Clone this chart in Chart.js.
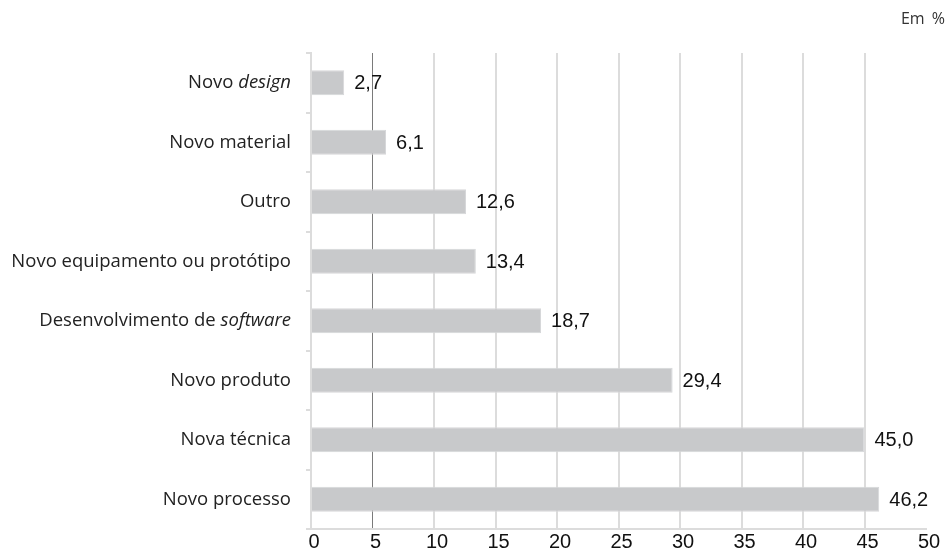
<!DOCTYPE html>
<html>
<head>
<meta charset="utf-8">
<script src="https://cdn.jsdelivr.net/npm/chart.js@4"></script>
<style>
  html, body { margin: 0; padding: 0; background: #fff; }
  #wrap { position: relative; width: 950px; height: 553px; }
  #unit { position: absolute; right: 5px; top: 7px; font: 16px "Open Sans", sans-serif; color: #333; word-spacing: 3px; }
</style>
</head>
<body>
<div id="wrap">
  <canvas id="chart" width="950" height="553"></canvas>
  <div id="unit">Em %</div>
</div>
<script>
// Categories (plain part + italic part) and values
const categories = [
    'Novo design',
    'Novo material',
    'Outro',
    'Novo equipamento ou protótipo',
    'Desenvolvimento de software',
    'Novo produto',
    'Nova técnica',
    'Novo processo'
];
const labelPlain = ['Novo ', 'Novo material', 'Outro', 'Novo equipamento ou protótipo', 'Desenvolvimento de ', 'Novo produto', 'Nova técnica', 'Novo processo'];
const labelItalic = ['design', '', '', '', 'software', '', '', ''];
const values = [2.7, 6.1, 12.6, 13.4, 18.7, 29.4, 45.0, 46.2];
const xTicks = [0, 5, 10, 15, 20, 25, 30, 35, 40, 45, 50];

const catFont = '"Open Sans", sans-serif';
const numFont = '"Liberation Sans", Arial, sans-serif';

// Category labels with mixed italic, drawn right-aligned next to the axis
const categoryLabels = {
    id: 'categoryLabels',
    afterDraw(chart) {
        const ctx = chart.ctx;
        const y = chart.scales.y;
        const right = chart.chartArea.left - 20;
        ctx.save();
        ctx.fillStyle = '#222';
        ctx.textBaseline = 'middle';
        ctx.textAlign = 'left';
        categories.forEach((_, i) => {
            const py = y.getPixelForValue(i);
            ctx.font = '18.5px ' + catFont;
            const w1 = ctx.measureText(labelPlain[i]).width;
            ctx.font = 'italic 18.5px ' + catFont;
            const w2 = labelItalic[i] ? ctx.measureText(labelItalic[i]).width : 0;
            let x = right - w1 - w2;
            ctx.font = '18.5px ' + catFont;
            ctx.fillText(labelPlain[i], x, py);
            if (labelItalic[i]) {
                ctx.font = 'italic 18.5px ' + catFont;
                ctx.fillText(labelItalic[i], x + w1, py);
            }
        });
        ctx.restore();
    }
};

// Value labels at the end of each bar
const valueLabels = {
    id: 'valueLabels',
    afterDatasetsDraw(chart) {
        const ctx = chart.ctx;
        const meta = chart.getDatasetMeta(0);
        ctx.save();
        ctx.fillStyle = '#111';
        ctx.font = '20px ' + numFont;
        ctx.textBaseline = 'middle';
        ctx.textAlign = 'left';
        meta.data.forEach((bar, i) => {
            ctx.fillText(values[i].toFixed(1).replace('.', ','), bar.x + 10, bar.y + 1);
        });
        ctx.restore();
    }
};

new Chart(document.getElementById('chart'), {
    type: 'bar',
    data: {
        labels: categories,
        datasets: [{
            data: values,
            backgroundColor: '#c8c9cb',
            borderColor: '#d6d7d9',
            borderWidth: 1,
            categoryPercentage: 1,
            barPercentage: 0.42
        }]
    },
    options: {
        indexAxis: 'y',
        responsive: false,
        animation: false,
        layout: { padding: { top: 53, right: 24, bottom: 0, left: 0 } },
        plugins: {
            legend: { display: false },
            tooltip: { enabled: false }
        },
        scales: {
            x: {
                min: 0,
                max: 50,
                afterBuildTicks(scale) {
                    scale.ticks = xTicks.map(v => ({ value: v }));
                },
                afterFit(scale) { scale.height = 24; },
                ticks: {
                    color: '#111',
                    font: { family: numFont, size: 20 },
                    padding: 1,
                    labelOffset: 3
                },
                grid: {
                    drawTicks: false,
                    color: ctx => ctx.tick && ctx.tick.value === 5 ? '#7a7a7a' : (ctx.tick && ctx.tick.value === 50 ? 'rgba(0,0,0,0)' : '#dcdcdc'),
                    lineWidth: ctx => ctx.tick && ctx.tick.value === 5 ? 1 : 2
                },
                border: { color: '#dcdcdc', width: 2 }
            },
            y: {
                ticks: { display: false },
                afterFit(scale) { scale.width = 311; },
                grid: {
                    drawOnChartArea: false,
                    drawTicks: true,
                    tickLength: 5,
                    color: '#dcdcdc',
                    lineWidth: 2
                },
                border: { color: '#dcdcdc', width: 2 }
            }
        }
    },
    plugins: [categoryLabels, valueLabels]
});
</script>
</body>
</html>
